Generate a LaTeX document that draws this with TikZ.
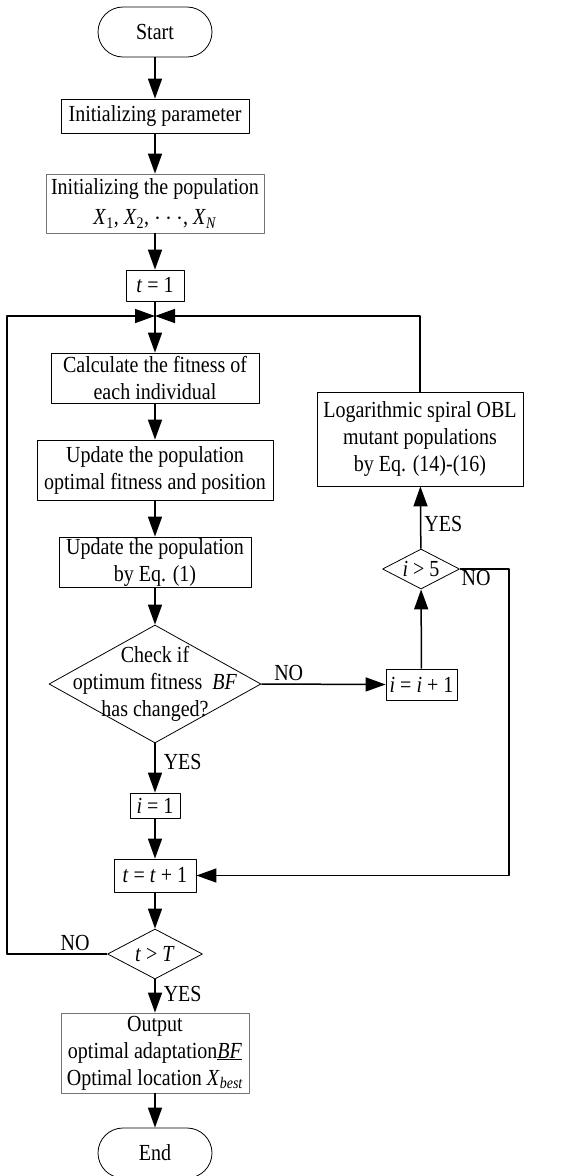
\documentclass[tikz,border=0pt]{standalone}
\usepackage{fontspec}
\setmainfont{Liberation Serif}[FakeStretch=0.87]
\usetikzlibrary{arrows.meta,shapes.geometric,positioning}

\begin{document}
\begin{tikzpicture}[x=1pt, y=-1pt, >={Triangle[length=20pt,width=14pt]}, line join=round,
    font=\fontsize{23}{27}\selectfont,
    box/.style={draw, line width=0.8pt, align=center, inner sep=0pt},
    graybox/.style={box, draw=black!55},
    term/.style={box, rounded corners=25pt, minimum width=114pt, minimum height=50pt},
    dia/.style={diamond, draw, line width=0.8pt, inner sep=0pt},
    flow/.style={->, line width=1.5pt},
    lbl/.style={inner sep=3pt},
    yes/.style={inner sep=3pt, right, xshift=5pt}]
  \useasboundingbox (0,0) rectangle (576,1176);
  % main column
  \node[term] (start) at (155,32) {Start};
  \node[box, minimum width=188pt, minimum height=34pt] (init) at (155,116) {Initializing parameter};
  \node[graybox, minimum width=218pt, minimum height=59pt] (pop) at (155,203.5)
    {Initializing the population\\[3pt]\textit{X}\textsubscript{1}, \textit{X}\textsubscript{2}, $\cdots$, \textit{X}\textsubscript{\textit{N}}};
  \node[box, minimum width=58pt, minimum height=31pt] (t1) at (155,285.5) {\textit{t} = 1};
  \coordinate (join) at (155,316);
  \node[box, minimum width=208pt, minimum height=50pt] (calc) at (155,378) {Calculate the fitness of\\each individual};
  \node[box, minimum width=236pt, minimum height=60pt] (upbest) at (155,470) {Update the population\\optimal fitness and position};
  \node[box, minimum width=192pt, minimum height=50pt] (uppop) at (155,562) {Update the population\\by Eq. (1)};
  \node[dia, minimum width=212pt, minimum height=118pt,
    label={[align=center]center:{Check if\\optimum fitness \ \textit{BF}\\has changed?}}] (check) at (155,684) {};
  \node[box, minimum width=50pt, minimum height=25pt] (i1) at (155,805.5) {\textit{i} = 1};
  \node[box, minimum width=82pt, minimum height=33pt] (tinc) at (155,875.5) {\textit{t} = \textit{t} + 1};
  \node[dia, minimum width=95pt, minimum height=50pt, label=center:{\textit{t} > \textit{T}}] (tT) at (155,954) {};
  \node[graybox, minimum width=188pt, minimum height=80pt] (out) at (155,1053)
    {Output\\optimal adaptation\underline{\textit{BF}}\\Optimal location \textit{X}\textsubscript{\textit{best}}};
  \node[term] (end) at (155,1153) {End};
  % right branch
  \node[box, minimum width=71pt, minimum height=31pt] (iinc) at (421.5,684.5) {\textit{i} = \textit{i} + 1};
  \node[dia, minimum width=77pt, minimum height=40pt, label=center:{\textit{i} > 5}] (i5) at (421,569) {};
  \node[box, minimum width=206pt, minimum height=94pt] (spiral) at (420,439)
    {Logarithmic spiral OBL\\mutant populations\\by Eq. (14)-(16)};
  \coordinate (lc) at (7,316);
  \coordinate (rc) at (509,875.5);

  \draw[flow] (start) -- (init);
  \draw[flow] (init) -- (pop);
  \draw[flow] (pop) -- (t1);
  \draw[flow] (t1) -- (calc);
  \draw[flow] (calc) -- (upbest);
  \draw[flow] (upbest) -- (uppop);
  \draw[flow] (uppop) -- (check);
  \draw[flow] (check) -- node[yes, pos=0.38]{YES} (i1);
  \draw[flow] (i1) -- (tinc);
  \draw[flow] (tinc) -- (tT);
  \draw[flow] (tT) -- node[yes, pos=0.45]{YES} (out);
  \draw[flow] (out) -- (end);
  \draw[flow] (check.east) -- node[lbl, above, pos=0.22]{NO} (iinc.west);
  \draw[flow] (iinc) -- (i5);
  \draw[flow] (i5) -- node[lbl, right, pos=0.4]{YES} (spiral);
  \draw[flow] (spiral.north) |- (join);
  \draw[flow] (tT.west) -| node[lbl, above, pos=0.16]{NO} (lc) -- (join);
  \draw[flow] (i5.east) -| node[below right, pos=0, inner sep=1pt]{NO} (rc) -- (tinc.east);
\end{tikzpicture}
\end{document}
